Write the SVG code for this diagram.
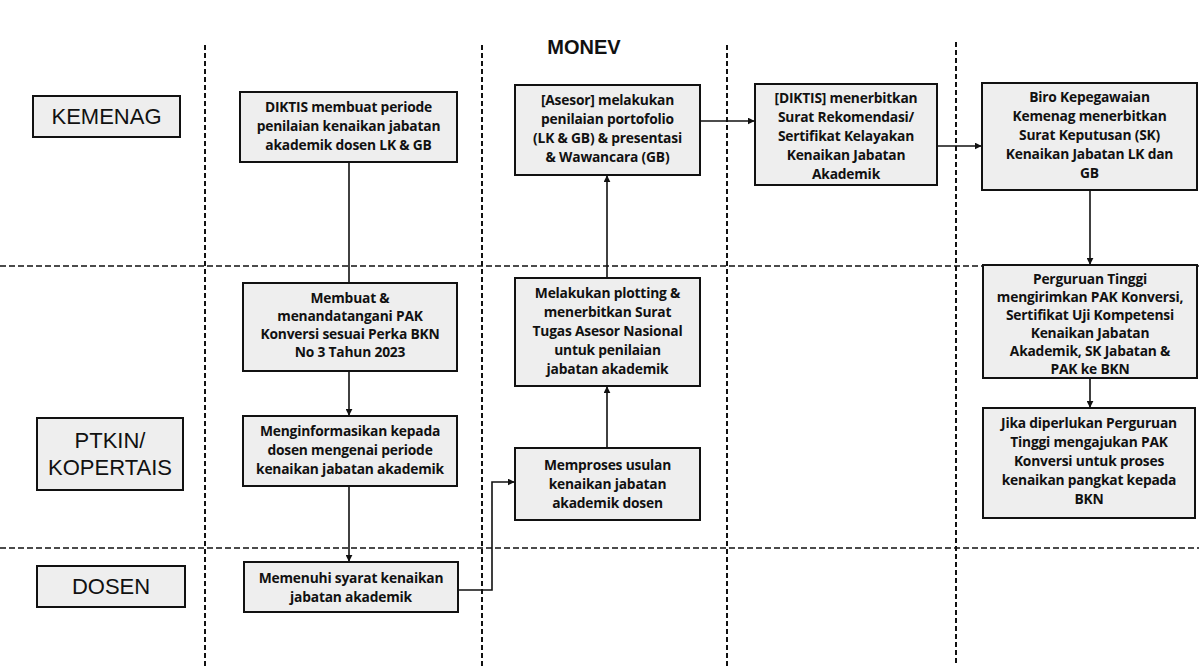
<svg xmlns="http://www.w3.org/2000/svg" width="1199" height="671" viewBox="0 0 1199 671">
<defs>
<marker id="ah" viewBox="0 0 10 10" refX="9" refY="5" markerWidth="7" markerHeight="7" orient="auto" markerUnits="userSpaceOnUse"><path d="M0,0 L10,5 L0,10 z" fill="#111"/></marker>
<style>
.bg{fill:#ffffff}
.lane{stroke:#111;stroke-width:2;stroke-dasharray:5,3;fill:none}
.hl{stroke:#111;stroke-width:1.6;stroke-dasharray:6,3;fill:none}
.box{fill:#eeeeee;stroke:#111;stroke-width:2}
.t{font-family:"Open Sans","Liberation Sans",Arial,sans-serif;font-size:13.8px;font-weight:bold;fill:#111;text-anchor:middle;letter-spacing:-0.2px}
.lab{font-family:"Liberation Sans",Arial,sans-serif;font-size:22px;fill:#111;text-anchor:middle}
.title{font-family:"Liberation Sans",Arial,sans-serif;font-size:20px;font-weight:bold;fill:#111;text-anchor:middle}
.c{stroke:#111;stroke-width:1.6;fill:none}
.ca{stroke:#111;stroke-width:1.6;fill:none;marker-end:url(#ah)}
</style>
</defs>
<rect class="bg" x="0" y="0" width="1199" height="671"/>
<text class="title" x="584" y="54">MONEV</text>
<g id="lanes">
<line class="lane" x1="205" y1="45" x2="205" y2="666"/>
<line class="lane" x1="482" y1="45" x2="482" y2="666"/>
<line class="lane" x1="727" y1="45" x2="727" y2="666"/>
<line class="lane" x1="956" y1="42" x2="956" y2="666"/>
<line class="hl" x1="0" y1="266" x2="1199" y2="266"/>
<line class="hl" x1="0" y1="548" x2="1199" y2="548"/>
</g>
<g id="kemenag"><rect class="box" x="33" y="96" width="147" height="41"/><text class="lab" x="106.5" y="124">KEMENAG</text></g>
<g id="ptkin"><rect class="box" x="37" y="418" width="146" height="72"/><text class="lab" x="110" y="448">PTKIN/</text><text class="lab" x="110" y="475">KOPERTAIS</text></g>
<g id="dosen"><rect class="box" x="37" y="566" width="148" height="41"/><text class="lab" x="111" y="594">DOSEN</text></g>
<g id="connectors">
<line class="c" x1="349" y1="162" x2="349" y2="283"/>
<line class="ca" x1="349" y1="371" x2="349" y2="415"/>
<line class="ca" x1="349" y1="486" x2="349" y2="561"/>
<polyline class="ca" points="458,590 492,590 492,482 514,482"/>
<line class="ca" x1="607" y1="448" x2="607" y2="387"/>
<line class="ca" x1="607" y1="278" x2="607" y2="176"/>
<line class="ca" x1="700" y1="121" x2="754" y2="121"/>
<line class="ca" x1="937" y1="146" x2="981" y2="146"/>
<line class="ca" x1="1090" y1="190" x2="1090" y2="264"/>
<line class="ca" x1="1090" y1="378" x2="1090" y2="407"/>
</g>
<g id="nA"><rect class="box" x="240" y="92" width="217" height="70"/>
<text class="t" x="348.5" y="112">DIKTIS membuat periode</text><text class="t" x="348.5" y="131">penilaian kenaikan jabatan</text><text class="t" x="348.5" y="150">akademik dosen LK &amp; GB</text></g>
<g id="nB"><rect class="box" x="243" y="283" width="214" height="88"/>
<text class="t" x="350" y="303">Membuat &amp;</text><text class="t" x="350" y="321">menandatangani PAK</text><text class="t" x="350" y="339">Konversi sesuai Perka BKN</text><text class="t" x="350" y="357">No 3 Tahun 2023</text></g>
<g id="nC"><rect class="box" x="243" y="416" width="214" height="70"/>
<text class="t" x="350" y="436">Menginformasikan kepada</text><text class="t" x="350" y="455">dosen mengenai periode</text><text class="t" x="350" y="474">kenaikan jabatan akademik</text></g>
<g id="nD"><rect class="box" x="244" y="562" width="214" height="50"/>
<text class="t" x="351" y="583">Memenuhi syarat kenaikan</text><text class="t" x="351" y="602">jabatan akademik</text></g>
<g id="nE"><rect class="box" x="515" y="85" width="185" height="90"/>
<text class="t" x="607.5" y="105">[Asesor] melakukan</text><text class="t" x="607.5" y="124">penilaian portofolio</text><text class="t" x="607.5" y="143">(LK &amp; GB) &amp; presentasi</text><text class="t" x="607.5" y="162">&amp; Wawancara (GB)</text></g>
<g id="nF"><rect class="box" x="515" y="278" width="185" height="108"/>
<text class="t" x="607.5" y="298">Melakukan plotting &amp;</text><text class="t" x="607.5" y="317">menerbitkan Surat</text><text class="t" x="607.5" y="336">Tugas Asesor Nasional</text><text class="t" x="607.5" y="355">untuk penilaian</text><text class="t" x="607.5" y="374">jabatan akademik</text></g>
<g id="nG"><rect class="box" x="515" y="448" width="185" height="72"/>
<text class="t" x="607.5" y="470">Memproses usulan</text><text class="t" x="607.5" y="489">kenaikan jabatan</text><text class="t" x="607.5" y="508">akademik dosen</text></g>
<g id="nH"><rect class="box" x="755" y="84" width="182" height="101"/>
<text class="t" x="846" y="103">[DIKTIS] menerbitkan</text><text class="t" x="846" y="122">Surat Rekomendasi/</text><text class="t" x="846" y="141">Sertifikat Kelayakan</text><text class="t" x="846" y="160">Kenaikan Jabatan</text><text class="t" x="846" y="179">Akademik</text></g>
<g id="nI"><rect class="box" x="982" y="83" width="215" height="107"/>
<text class="t" x="1089.5" y="102">Biro Kepegawaian</text><text class="t" x="1089.5" y="121">Kemenag menerbitkan</text><text class="t" x="1089.5" y="140">Surat Keputusan (SK)</text><text class="t" x="1089.5" y="159">Kenaikan Jabatan LK dan</text><text class="t" x="1089.5" y="178">GB</text></g>
<g id="nJ"><rect class="box" x="983" y="265" width="214" height="113"/>
<text class="t" x="1090" y="284">Perguruan Tinggi</text><text class="t" x="1090" y="302">mengirimkan PAK Konversi,</text><text class="t" x="1090" y="320">Sertifikat Uji Kompetensi</text><text class="t" x="1090" y="338">Kenaikan Jabatan</text><text class="t" x="1090" y="356">Akademik, SK Jabatan &amp;</text><text class="t" x="1090" y="374">PAK ke BKN</text></g>
<g id="nK"><rect class="box" x="983" y="408" width="212" height="110"/>
<text class="t" x="1089" y="428">Jika diperlukan Perguruan</text><text class="t" x="1089" y="447">Tinggi mengajukan PAK</text><text class="t" x="1089" y="466">Konversi untuk proses</text><text class="t" x="1089" y="485">kenaikan pangkat kepada</text><text class="t" x="1089" y="504">BKN</text></g>
</svg>
